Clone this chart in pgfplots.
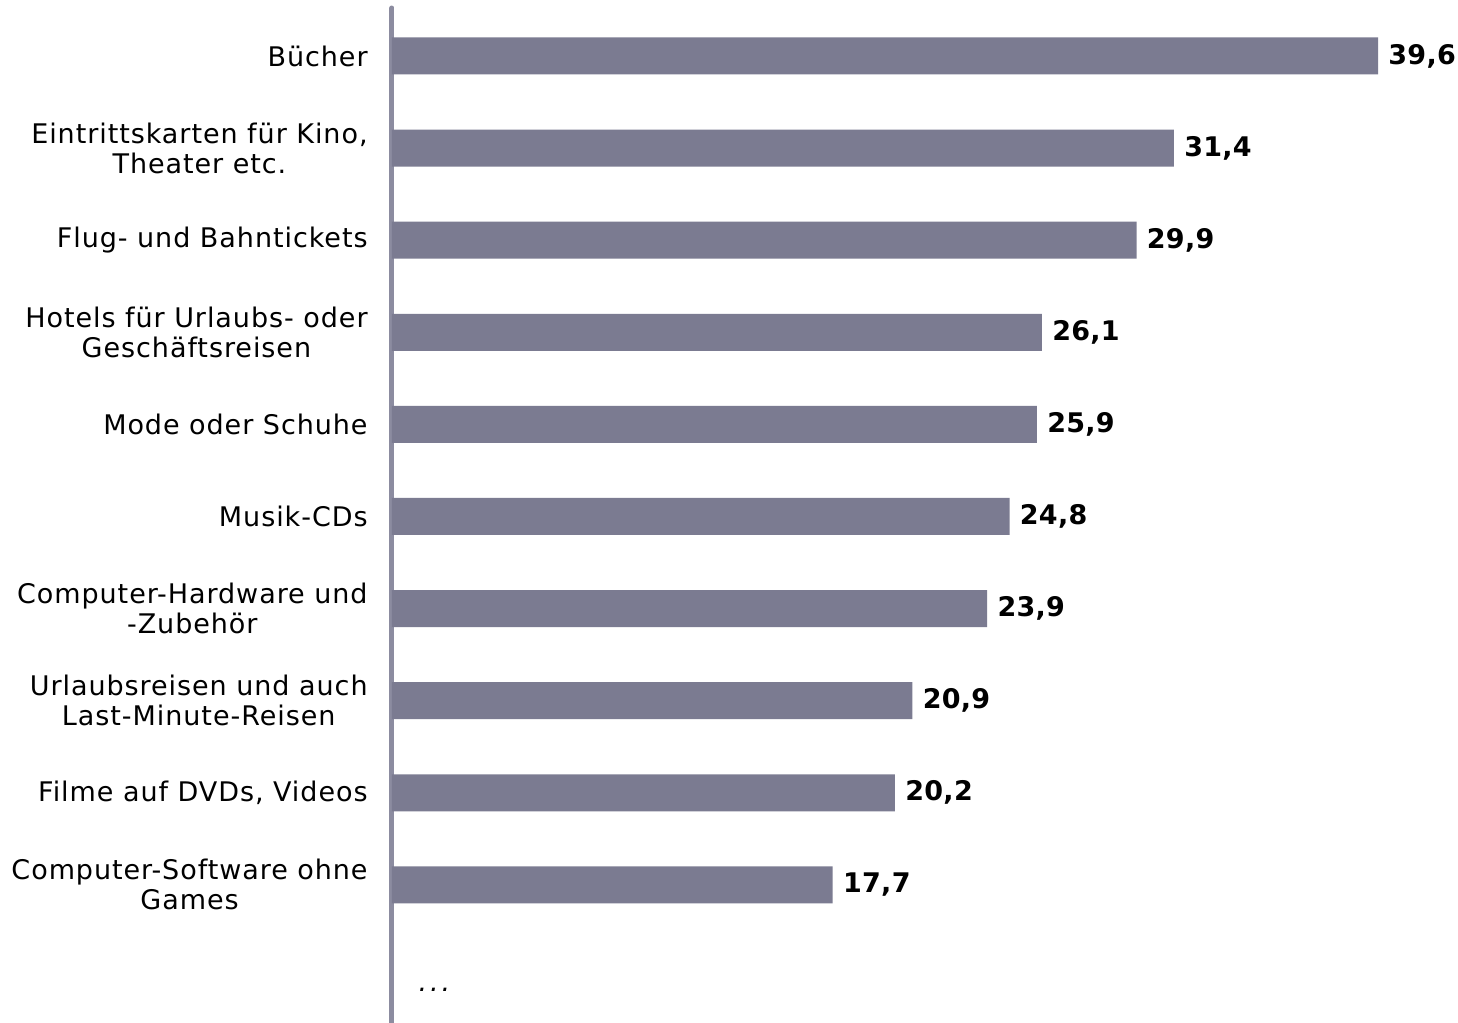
\documentclass[border=0pt]{standalone}
\usepackage{fontspec}
\setmainfont{DejaVu Sans}[LetterSpace=3.5, BoldFeatures={LetterSpace=1}]
\usepackage{pgfplots}
\pgfplotsset{compat=1.18}
\definecolor{barcol}{RGB}{123,123,145}
\definecolor{linecol}{RGB}{140,140,160}
\begin{document}
\begin{tikzpicture}
\fontsize{13.5}{15}\selectfont
\path[use as bounding box] (-196pt,0) rectangle (533pt,511.5pt);
\begin{axis}[
    at={(0,0)}, anchor=south west,
    scale only axis,
    width=522.9pt, height=507.5pt,
    xmin=0, xmax=42,
    ymin=-0.521, ymax=10.5,
    y dir=reverse,
    axis x line=none,
    axis y line*=left,
    y axis line style={linecol, line width=2.5pt, line cap=round},
    ytick={0,...,9},
    yticklabels={
      B\"ucher,
      {Eintrittskarten f\"ur Kino,\\Theater etc.},
      Flug- und Bahntickets,
      {Hotels f\"ur Urlaubs- oder\\Gesch\"aftsreisen},
      Mode oder Schuhe,
      Musik-CDs,
      {Computer-Hardware und\\-Zubeh\"or},
      {Urlaubsreisen und auch\\Last-Minute-Reisen},
      {Filme auf DVDs, Videos},
      {Computer-Software ohne\\Games}},
    yticklabel style={align=center, inner sep=0pt, xshift=-12pt, font=\fontsize{13.5}{15}\selectfont},
    major tick length=0pt,
    xbar, bar width=18.5pt, bar shift=0pt,
    clip=false,
    /pgf/number format/.cd, fixed, fixed zerofill, precision=1, use comma, assume math mode=true,
    /pgfplots/.cd,
    nodes near coords,
    nodes near coords style={font=\fontsize{13.5}{15}\selectfont\bfseries, inner sep=0pt, anchor=west, xshift=5pt},
]
\addplot[fill=barcol, draw=none] coordinates {
  (39.6,0) (31.4,1) (29.9,2) (26.1,3) (25.9,4)
  (24.8,5) (23.9,6) (20.9,7) (20.2,8) (17.7,9)
};
\node[anchor=west, inner sep=0pt] at (axis cs:1.05,10.14) {\textit{.\kern1.5pt.\kern1.5pt.}};
\end{axis}
\end{tikzpicture}
\end{document}
